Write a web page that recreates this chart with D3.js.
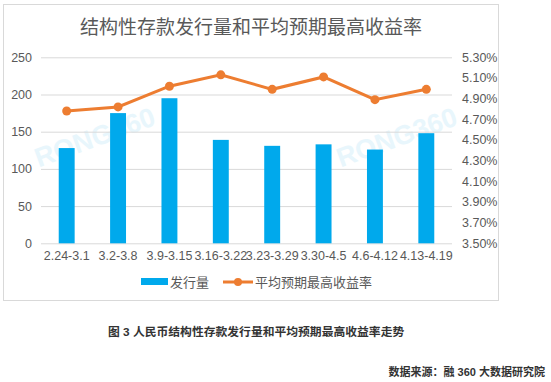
<!DOCTYPE html>
<html><head><meta charset="utf-8">
<script src="https://cdn.jsdelivr.net/npm/d3@7"></script>
<style>body{margin:0;background:#fff;}svg{display:block;}text{font-family:"Liberation Sans","Noto Sans CJK SC",sans-serif;}</style>
</head><body><svg id="c" width="551" height="382"></svg>
<script>
const categories = ["2.24-3.1","3.2-3.8","3.9-3.15","3.16-3.22","3.23-3.29","3.30-4.5","4.6-4.12","4.13-4.19"];
const issuance = [128,175,195,139,131,133,126,148];
const rate = [4.78,4.82,5.02,5.13,4.99,5.11,4.89,4.99];
const leftTicks = [0,50,100,150,200,250];
const rightTicks = [3.5,3.7,3.9,4.1,4.3,4.5,4.7,4.9,5.1,5.3];

const svg = d3.select("#c");
const L=41, R=452, T=57.3, B=243.3;
const x = d3.scaleBand().domain(categories).range([L,R]).paddingInner(0.69).paddingOuter(0.345);
const yL = d3.scaleLinear().domain([0,250]).range([B,T]);
const yR = d3.scaleLinear().domain([3.5,5.3]).range([B,T]);
const txt="#595959";

svg.append("rect").attr("x",3.5).attr("y",4.5).attr("width",495).attr("height",296).attr("fill","#fff").attr("stroke","#d9d9d9");

svg.append("text").attr("x",251).attr("y",34).attr("text-anchor","middle").attr("font-size",19).attr("fill",txt).text("结构性存款发行量和平均预期最高收益率");

// watermark
[[98,146],[400,146]].forEach(p=>{
  svg.append("text").attr("transform",`translate(${p[0]},${p[1]}) rotate(-20)`).attr("text-anchor","middle")
    .attr("font-size",27).attr("font-weight","bold").attr("fill","#e8f6fc").text("RONG360");
});

const gl = svg.append("g").attr("transform",`translate(${L},0)`)
  .call(d3.axisLeft(yL).tickValues(leftTicks).tickSize(-(R-L)).tickPadding(9));
gl.select(".domain").remove();
gl.selectAll(".tick line").attr("stroke","#d9d9d9");
gl.selectAll(".tick text").attr("font-size",12.5).attr("fill",txt);

const gr = svg.append("g").attr("transform",`translate(${R},0)`)
  .call(d3.axisRight(yR).tickValues(rightTicks).tickSize(0).tickPadding(10).tickFormat(d=>d.toFixed(2)+"%"));
gr.select(".domain").remove();
gr.selectAll(".tick text").attr("font-size",12.5).attr("fill",txt);

svg.selectAll(".bar").data(issuance).join("rect").attr("class","bar")
  .attr("x",(d,i)=>x(categories[i])).attr("width",x.bandwidth())
  .attr("y",d=>yL(d)).attr("height",d=>B-yL(d)).attr("fill","#00A9EC");

const gx = svg.append("g").attr("transform",`translate(0,${B})`)
  .call(d3.axisBottom(x).tickSize(0).tickPadding(8));
gx.select(".domain").remove();
gx.selectAll(".tick text").attr("font-size",12.5).attr("fill",txt);

const cx = (d,i)=>x(categories[i])+x.bandwidth()/2;
svg.append("path").datum(rate).attr("fill","none").attr("stroke","#ED7D31").attr("stroke-width",3)
  .attr("d",d3.line().x(cx).y(d=>yR(d)));
svg.selectAll(".dot").data(rate).join("circle").attr("class","dot")
  .attr("cx",cx).attr("cy",d=>yR(d)).attr("r",4.5).attr("fill","#ED7D31");

// legend
svg.append("rect").attr("x",141).attr("y",278).attr("width",27).attr("height",7).attr("fill","#00A9EC");
svg.append("text").attr("x",170).attr("y",287).attr("font-size",13).attr("fill",txt).text("发行量");
svg.append("line").attr("x1",223).attr("x2",253).attr("y1",282).attr("y2",282).attr("stroke","#ED7D31").attr("stroke-width",3);
svg.append("circle").attr("cx",238).attr("cy",282).attr("r",4).attr("fill","#ED7D31");
svg.append("text").attr("x",255).attr("y",287).attr("font-size",13).attr("fill",txt).text("平均预期最高收益率");

svg.append("text").attr("x",108).attr("y",336).attr("font-size",11.8).attr("font-weight","bold").attr("fill","#333")
  .text("图 3 人民币结构性存款发行量和平均预期最高收益率走势");
svg.append("text").attr("x",545).attr("y",376).attr("text-anchor","end").attr("font-size",11).attr("font-weight","bold").attr("fill","#333")
  .text("数据来源：融 360 大数据研究院");
</script></body></html>
